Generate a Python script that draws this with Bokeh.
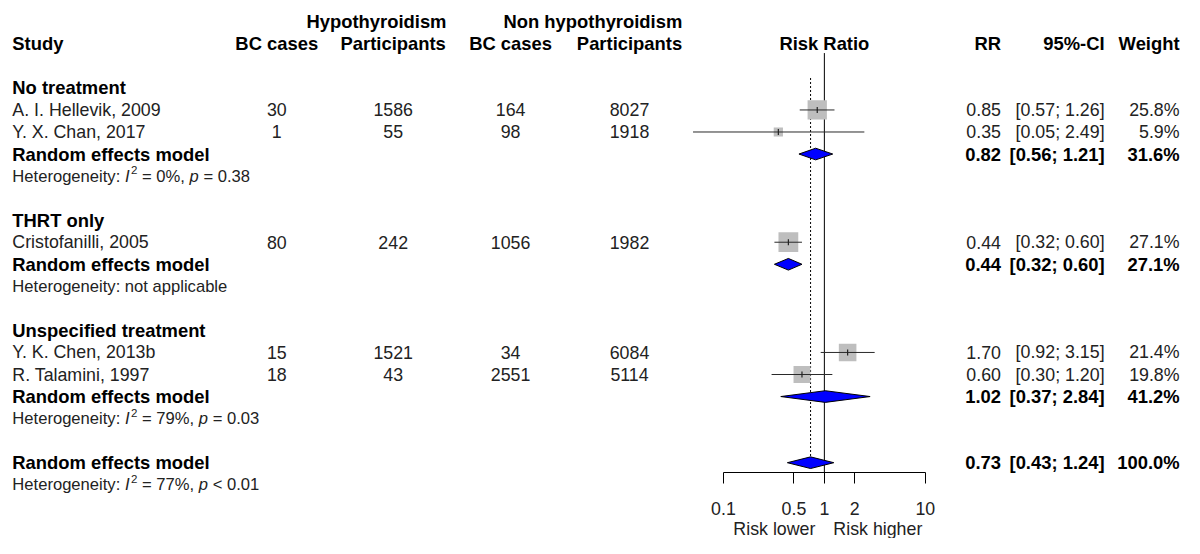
import math
from bokeh.plotting import figure
from bokeh.models import (Range1d, LogScale, LogAxis, FixedTicker,
                          CustomJSTickFormatter, ColumnDataSource)
from bokeh.core.properties import value
from bokeh.embed import file_html
from bokeh.resources import INLINE

# ---------------- data ----------------
study_names = ["A. I. Hellevik, 2009", "Y. X. Chan, 2017", "Cristofanilli, 2005",
               "Y. K. Chen, 2013b", "R. Talamini, 1997"]
study_group = [0, 0, 1, 2, 2]
hyp_cases = [30, 1, 80, 15, 18]
hyp_total = [1586, 55, 242, 1521, 43]
non_cases = [164, 98, 1056, 34, 2551]
non_total = [8027, 1918, 1982, 6084, 5114]
study_rr = [0.85, 0.35, 0.44, 1.70, 0.60]
study_lo = [0.57, 0.05, 0.32, 0.92, 0.30]
study_hi = [1.26, 2.49, 0.60, 3.15, 1.20]
study_weight = [25.8, 5.9, 27.1, 21.4, 19.8]

group_names = ["No treatment", "THRT only", "Unspecified treatment"]
group_rr = [0.82, 0.44, 1.02]
group_lo = [0.56, 0.32, 0.37]
group_hi = [1.21, 0.60, 2.84]
group_weight = [31.6, 27.1, 41.2]
group_i2 = ["0%", None, "79%"]
group_p = ["= 0.38", None, "= 0.03"]

overall_rr = [0.73]
overall_lo = [0.43]
overall_hi = [1.24]
overall_weight = [100.0]
overall_i2 = "77%"
overall_p = "< 0.01"

axis_ticks = [0.1, 0.5, 1, 2, 10]

# ---------------- layout constants ----------------
FONT = "Liberation Sans"
W, H = 1184, 538
SX, SY = W / 1200.0, H / 554.0
ROW0, ROWH = 90.0 * SY, 22.7 * SY      # canvas-y of row 0 and row pitch (px)
FRAME_BOTTOM = 486.0 * SY              # canvas-y of the RR axis line
X_ONE, DECADE = 835.0 * SX, 102.3 * SX  # canvas-x of RR = 1, px per decade
NORMAL = "#222222"
BOLD = "#000000"
FSN = 17.8                              # regular font size
FS = f"{FSN}px"
FB = "18.4px"
HS = 16.6                               # heterogeneity font size
SS = 11.5                               # superscript size

y_start = (FRAME_BOTTOM - ROW0) / ROWH
y_end = (0 - ROW0) / ROWH
rr_start = 10 ** ((0 - X_ONE) / DECADE)
rr_end = 10 ** ((W - X_ONE) / DECADE)

# Arial / Liberation Sans advance widths (1/1000 em)
AW = {' ': 278, '%': 889, ',': 278, '.': 278, ':': 278, '<': 584, '=': 584,
      'H': 722, 'I': 278, 'a': 556, 'e': 556, 'g': 556, 'i': 222, 'n': 556,
      'o': 556, 'p': 556, 'r': 333, 't': 278, 'y': 500}


def tw(s, size):
    return sum(AW.get(c, 556) for c in s) / 1000.0 * size


# ---------------- rows ----------------
study_rows, header_rows, rem_rows, het_rows = [], [], [], []
k = 0
for g in range(len(group_names)):
    header_rows.append(k)
    members = [i for i, sg in enumerate(study_group) if sg == g]
    for j, _ in enumerate(members):
        study_rows.append(k + 1 + j)
    rem_rows.append(k + len(members) + 1)
    het_rows.append(k + len(members) + 2)
    k += len(members) + 4
overall_row = k
overall_het_row = k + 1
col_head_row = -2
super_head_row = -3

p = figure(width=W, height=H, output_backend="svg", toolbar_location=None,
           x_axis_type=None, y_axis_type=None,
           x_range=Range1d(0, W), y_range=Range1d(y_start, y_end),
           min_border_left=0, min_border_right=0, min_border_top=0,
           min_border_bottom=H - int(round(FRAME_BOTTOM)),
           outline_line_color=None, background_fill_color="white",
           border_fill_color="white")
p.extra_x_ranges = {"rr": Range1d(rr_start, rr_end)}
p.extra_x_scales = {"rr": LogScale()}

ax = LogAxis(x_range_name="rr", bounds=(axis_ticks[0], axis_ticks[-1]),
             ticker=FixedTicker(ticks=axis_ticks, minor_ticks=[]),
             formatter=CustomJSTickFormatter(code="return String(tick)"))
ax.axis_line_color = "black"
ax.major_tick_line_color = "black"
ax.major_tick_out = 11
ax.major_tick_in = 0
ax.minor_tick_out = 0
ax.minor_tick_in = 0
ax.major_label_standoff = 18
ax.major_label_text_font = FONT
ax.major_label_text_font_size = FS
ax.major_label_text_color = NORMAL
p.add_layout(ax, "below")


def txt(xs, ys, texts, align="left", bold=False, italic=False, size=None,
        color=None, rng=None, xoff=0, yoff=0):
    src = ColumnDataSource(dict(x=list(xs), y=list(ys), t=list(texts)))
    style = "bold" if bold else ("italic" if italic else "normal")
    kw = {"x_range_name": rng} if rng else {}
    p.text(x="x", y="y", text="t", source=src, text_align=align,
           text_baseline="middle", text_font=value(FONT),
           text_font_size=size or (FB if bold else FS), text_font_style=style,
           text_color=color or (BOLD if bold else NORMAL),
           x_offset=xoff, y_offset=yoff, level="overlay", **kw)


# ---------------- forest glyphs ----------------
rr_ref_top = col_head_row + 0.42
p.segment(x0=[1], y0=[rr_ref_top], x1=[1], y1=[y_start], x_range_name="rr",
          line_color="black", line_width=1)
p.segment(x0=overall_rr, y0=[header_rows[0] - 0.45], x1=overall_rr,
          y1=[overall_row], x_range_name="rr", line_color="black",
          line_width=1, line_dash="2 2")

sq = ColumnDataSource(dict(x=study_rr, y=study_rows, lo=study_lo, hi=study_hi,
                           s=[3.8 * math.sqrt(w) for w in study_weight]))
p.scatter(x="x", y="y", size="s", marker="square", source=sq,
          x_range_name="rr", fill_color="#BEBEBE", line_color=None)
p.segment(x0="lo", y0="y", x1="hi", y1="y", source=sq, x_range_name="rr",
          line_color="#2a2a2a", line_width=1)
p.scatter(x="x", y="y", size=6, marker="dash", angle=math.pi / 2, source=sq,
          x_range_name="rr", line_color="#222222", line_width=1.2)

DH = 6.0 / 22.7
d_est = group_rr + overall_rr
d_lo = group_lo + overall_lo
d_hi = group_hi + overall_hi
d_row = rem_rows + [overall_row]
p.patches(xs=[[lo, e, hi, e] for lo, e, hi in zip(d_lo, d_est, d_hi)],
          ys=[[r, r - DH, r, r + DH] for r in d_row], x_range_name="rr",
          fill_color="#0000FF", line_color="black", line_width=1)

# ---------------- column positions (px) ----------------
XS = 12 * SX
XHC, XHT, XNC, XNT = 280 * SX, 398 * SX, 517 * SX, 637.5 * SX
XRR, XCI, XW = 1014 * SX, 1119 * SX, 1195 * SX

# ---------------- headers ----------------
txt([452 * SX, 691 * SX], [super_head_row] * 2,
    ["Hypothyroidism", "Non hypothyroidism"], align="right", bold=True)
txt([XS], [col_head_row], ["Study"], bold=True)
txt([XHC, XHT, XNC, XNT], [col_head_row] * 4,
    ["BC cases", "Participants", "BC cases", "Participants"],
    align="center", bold=True)
txt([1], [col_head_row], ["Risk Ratio"], align="center", bold=True, rng="rr")
txt([XRR], [col_head_row], ["RR"], align="right", bold=True)
txt([XCI], [col_head_row], ["95%-CI"], align="right", bold=True)
txt([XW], [col_head_row], ["Weight"], align="right", bold=True)

# ---------------- group labels and studies ----------------
txt([XS] * len(group_names), header_rows, group_names, bold=True)
txt([XS] * len(study_names), study_rows, study_names)
for xc, vals in ((XHC, hyp_cases), (XHT, hyp_total), (XNC, non_cases),
                 (XNT, non_total)):
    txt([xc] * len(vals), study_rows, [str(v) for v in vals], align="center")

txt([XRR] * len(study_rr), study_rows, [f"{v:.2f}" for v in study_rr], align="right")
txt([XCI] * len(study_rr), study_rows,
    [f"[{a:.2f}; {b:.2f}]" for a, b in zip(study_lo, study_hi)], align="right")
txt([XW] * len(study_rr), study_rows, [f"{w:.1f}%" for w in study_weight], align="right")

# ---------------- pooled rows ----------------
txt([XS] * len(d_row), d_row, ["Random effects model"] * len(d_row), bold=True)
txt([XRR] * len(d_row), d_row, [f"{v:.2f}" for v in d_est], align="right", bold=True)
txt([XCI] * len(d_row), d_row,
    [f"[{a:.2f}; {b:.2f}]" for a, b in zip(d_lo, d_hi)], align="right", bold=True)
txt([XW] * len(d_row), d_row, [f"{w:.1f}%" for w in group_weight + overall_weight],
    align="right", bold=True)

# ---------------- heterogeneity lines ----------------
hs = f"{HS}px"
ss = f"{SS}px"
het_items = list(zip(het_rows, group_i2, group_p)) + [(overall_het_row, overall_i2, overall_p)]
for row, i2, pv in het_items:
    if i2 is None:
        txt([XS], [row], ["Heterogeneity: not applicable"], size=hs)
        continue
    x = XS
    txt([x], [row], ["Heterogeneity:"], size=hs)
    x += tw("Heterogeneity: ", HS)
    txt([x], [row], ["I"], size=hs, italic=True)
    x += tw("I", HS) + 1.5
    txt([x], [row], ["2"], size=ss, yoff=-6)
    x += tw("2", SS) + tw(" ", HS)
    s = f"= {i2},"
    txt([x], [row], [s], size=hs)
    x += tw(s + " ", HS)
    txt([x], [row], ["p"], size=hs, italic=True)
    x += tw("p ", HS)
    txt([x], [row], [pv], size=hs)

# ---------------- direction labels ----------------
dir_row = overall_het_row + 2
txt([1], [dir_row], ["Risk lower"], align="right", rng="rr", xoff=-9)
txt([1], [dir_row], ["Risk higher"], align="left", rng="rr", xoff=9)

open("out.html", "w").write(file_html(p, INLINE))
